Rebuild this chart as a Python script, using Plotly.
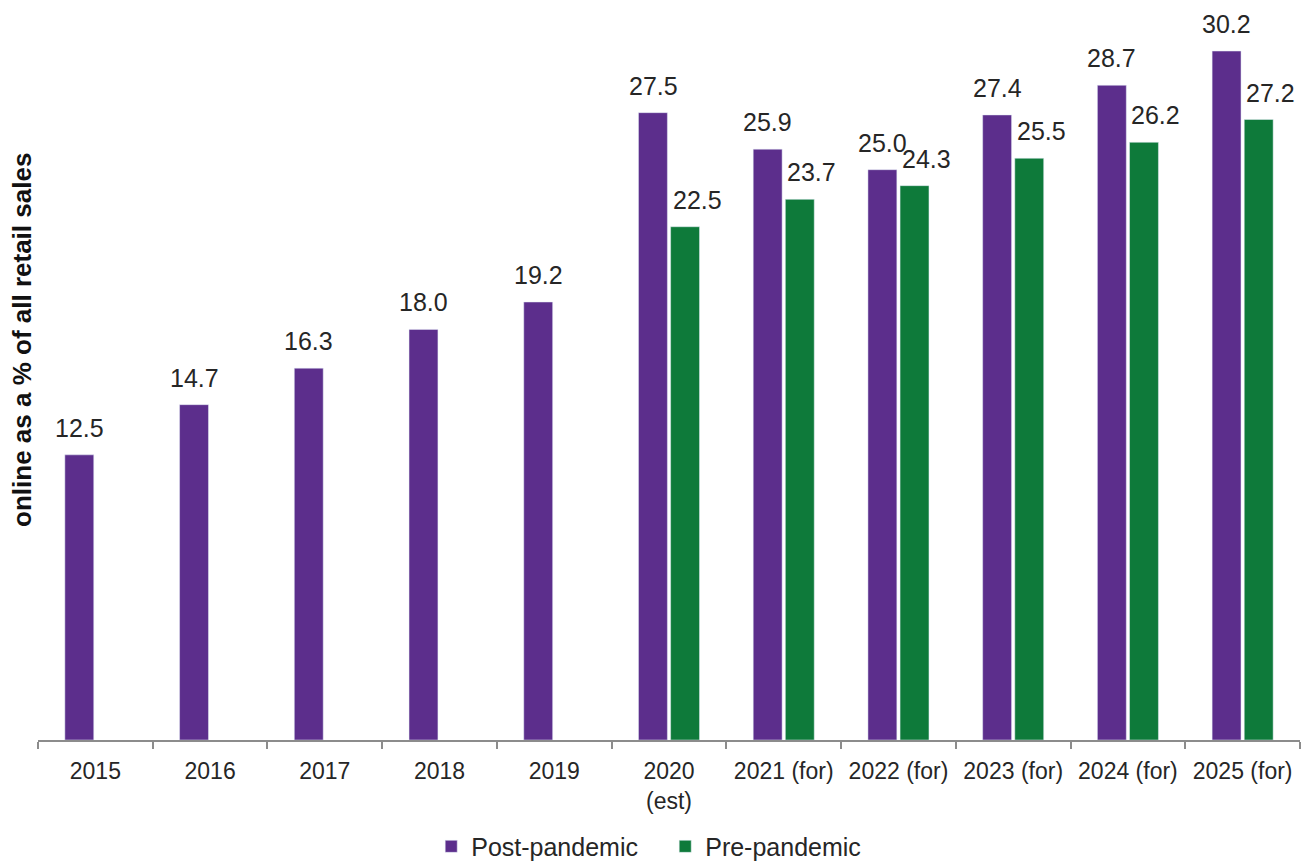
import plotly.graph_objects as go

categories = ["2015", "2016", "2017", "2018", "2019", "2020<br>(est)", "2021 (for)",
              "2022 (for)", "2023 (for)", "2024 (for)", "2025 (for)"]
post_pandemic = [12.5, 14.7, 16.3, 18.0, 19.2, 27.5, 25.9, 25.0, 27.4, 28.7, 30.2]
pre_pandemic = [None, None, None, None, None, 22.5, 23.7, 24.3, 25.5, 26.2, 27.2]

PURPLE = "rgb(92,46,140)"
GREEN = "rgb(14,122,58)"
TXT = "#262626"
FONT = "Liberation Sans, Arial"

fig = go.Figure()
fig.add_trace(go.Bar(x=categories, y=post_pandemic, name="Post-pandemic",
                     marker_color=PURPLE))
fig.add_trace(go.Bar(x=categories, y=pre_pandemic, name="Pre-pandemic",
                     marker_color=GREEN))

annotations = []
for series, shift in ((post_pandemic, -16), (pre_pandemic, 28)):
    for i, v in enumerate(series):
        if v is None:
            continue
        annotations.append(dict(x=i, y=v, text=f"{v:.1f}", showarrow=False,
                                xshift=shift, yshift=11, yanchor="bottom",
                                font=dict(size=25, color=TXT, family=FONT)))

annotations.append(dict(xref="paper", yref="paper", x=-0.0127, y=0.548,
                        xanchor="center", yanchor="middle", textangle=-90,
                        text="<b>online as a % of all retail sales</b>",
                        showarrow=False,
                        font=dict(size=26, color="#111111", family=FONT)))

fig.update_layout(
    width=1303, height=864,
    margin=dict(l=38, r=3, t=10, b=124, autoexpand=False),
    paper_bgcolor="white", plot_bgcolor="white",
    barmode="group", bargap=0.44, bargroupgap=0.1,
    font=dict(family=FONT, size=23, color=TXT),
    showlegend=True,
    legend=dict(orientation="h", x=0.497, xanchor="center", y=-0.146,
                yanchor="middle", font=dict(size=25, color=TXT, family=FONT),
                entrywidth=189, traceorder="normal"),
    annotations=annotations,
)
fig.update_xaxes(type="category", range=[-0.5, len(categories) - 0.5],
                 automargin=False,
                 showline=True, linecolor="#8c8c8c", linewidth=1.5,
                 ticks="outside", tickson="boundaries", ticklen=7,
                 tickcolor="#8c8c8c", tickwidth=1.5, tickangle=0,
                 ticklabelstandoff=10,
                 tickfont=dict(size=23, color=TXT, family=FONT), showgrid=False)
fig.update_yaxes(range=[0, 32.0], visible=False, showgrid=False, automargin=False)

fig.write_html("out.html", config={"displayModeBar": False},
               post_script="document.body.style.margin='0px';"
                           "document.body.style.overflow='hidden';")
